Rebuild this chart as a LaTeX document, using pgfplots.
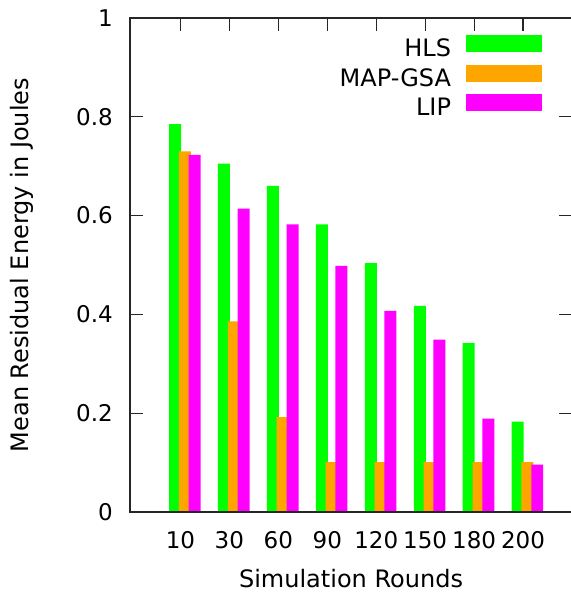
\documentclass[border=0pt]{standalone}
\usepackage{pgfplots}
\pgfplotsset{compat=1.18}
\usepackage{fontspec}
\setmainfont{DejaVu Sans}
\newcommand\f{\fontsize{24bp}{28bp}\selectfont}
\newcommand\ft{\fontsize{23bp}{27bp}\selectfont}
\definecolor{cgreen}{HTML}{00FF00}
\definecolor{corange}{HTML}{FFA500}
\definecolor{cmag}{HTML}{FF00FF}
\pgfplotsset{
  common/.style={
    scale only axis,
    width=442bp, height=494bp,
    xmin=-1.03, xmax=8.0,
    ymin=0, ymax=1,
    ytick={0,0.2,0.4,0.6,0.8,1},
    xtick={0,1,2,3,4,5,6,7},
    tick align=inside,
    major tick length=13bp,
    axis line style={line width=1.2bp, black!85},
    major tick style={line width=1.2bp, black!85},
  }
}
\begin{document}
\begin{tikzpicture}
\begin{axis}[
  common,
  name=ax,
  yticklabels={0,0.2,0.4,0.6,0.8,1},
  xticklabels={10,30,60,90,120,150,180,200},
  /pgf/number format/assume math mode=true,
  xtick pos=left,
  ytick pos=left,
  xtick style={draw=none},
  tick label style={font=\ft},
  xticklabel style={anchor=base, inner sep=0pt, yshift=-24bp},
  yticklabel style={anchor=east, inner sep=0pt, xshift=-17bp},
  xlabel={Simulation Rounds},
  ylabel={Mean Residual Energy in Joules},
  every axis x label/.style={at={(rel axis cs:0.5,0)}, anchor=base, yshift=-75bp, font=\f},
  every axis y label/.style={at={(rel axis cs:0,0.5)}, xshift=-101bp, rotate=90, anchor=base, font=\f},
  ybar,
  bar width=0.245,
  legend plot pos=right,
  legend cell align=right,
  legend style={at={(rel axis cs:1,1)}, anchor=north east, xshift=-30bp, yshift=-17bp,
    draw=none, fill=none, font=\f, inner sep=0pt, outer sep=0pt,
    row sep=6.5bp, column sep=15bp,
    nodes={inner sep=0pt, outer sep=0pt}},
  legend image code/.code={\fill[#1, draw=none] (0bp,-3.5bp) rectangle (76bp,13.5bp);},
]
\addplot[fill=cgreen, draw=none, bar shift=-0.11] coordinates {
 (0,0.785) (1,0.705) (2,0.660) (3,0.582) (4,0.504) (5,0.417) (6,0.342) (7,0.183)};
\addlegendentry{HLS}
\addplot[fill=corange, draw=none, bar shift=0.09] coordinates {
 (0,0.730) (1,0.386) (2,0.192) (3,0.101) (4,0.101) (5,0.101) (6,0.101) (7,0.101)};
\addlegendentry{MAP-GSA}
\addplot[fill=cmag, draw=none, bar shift=0.29] coordinates {
 (0,0.723) (1,0.614) (2,0.582) (3,0.498) (4,0.407) (5,0.349) (6,0.189) (7,0.096)};
\addlegendentry{LIP}
\end{axis}
\begin{axis}[
  common,
  xtick pos=right,
  ytick pos=both,
  xticklabels={},
  yticklabels={},
]
\end{axis}
\pgfresetboundingbox
\path ([xshift=-130bp,yshift=-86bp]ax.south west) rectangle ([xshift=-1bp,yshift=18bp]ax.north east);
\end{tikzpicture}
\end{document}
